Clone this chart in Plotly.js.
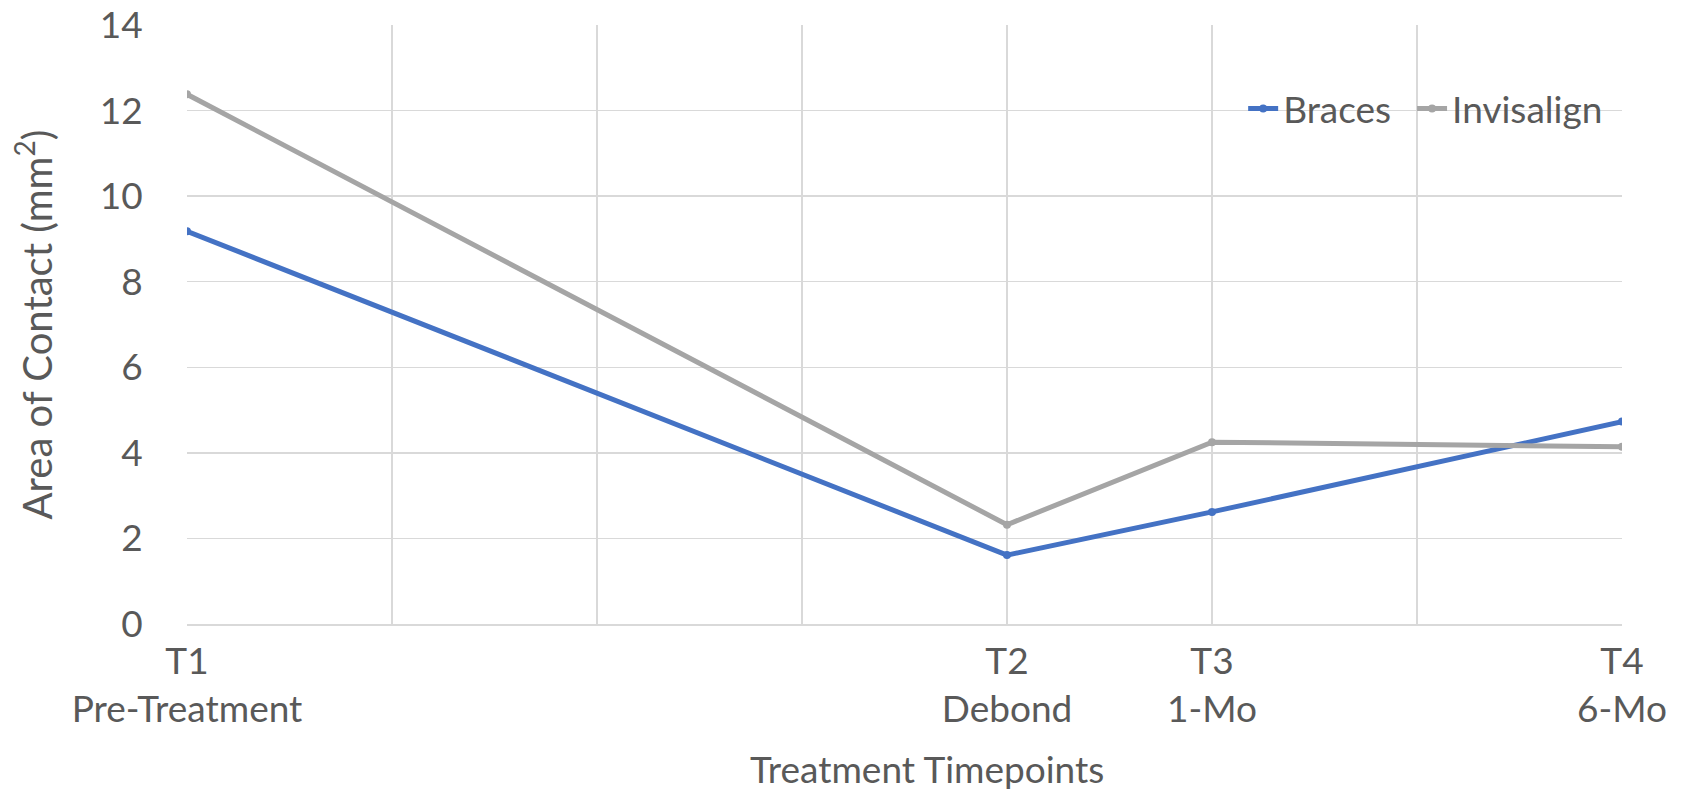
<!DOCTYPE html>
<html>
<head>
<meta charset="utf-8">
<script src="https://cdn.plot.ly/plotly-3.0.1.min.js"></script>
<style>html,body{margin:0;padding:0;background:#fff;}#chart{width:1682px;height:800px;}</style>
</head>
<body>
<div id="chart"></div>
<script>
// Data
const timepointPositions = [0, 4, 5, 7];
const timepointLabels = ['T1<br>Pre-Treatment', 'T2<br>Debond', 'T3<br>1-Mo', 'T4<br>6-Mo'];
const gridPositions = [0, 1, 2, 3, 4, 5, 6, 7];
const bracesValues = [9.18, 1.61, 2.62, 4.73];
const invisalignValues = [12.38, 2.32, 4.25, 4.14];
const yTickValues = [0, 2, 4, 6, 8, 10, 12, 14];
const xTitle = 'Treatment Timepoints';
const yTitle = 'Area of Contact (mm<sup>2</sup>)';

const FONT = 'Lato, "Open Sans", sans-serif';
const TXT = '#595959';
const GRID = '#D9D9D9';

const traces = [
  {
    x: timepointPositions, y: bracesValues, name: 'Braces',
    type: 'scatter', mode: 'lines+markers', legend: 'legend',
    line: {color: '#4472C4', width: 5},
    marker: {color: '#4472C4', size: 8}
  },
  {
    x: timepointPositions, y: invisalignValues, name: 'Invisalign',
    type: 'scatter', mode: 'lines+markers', legend: 'legend2',
    line: {color: '#A5A5A5', width: 5},
    marker: {color: '#A5A5A5', size: 8}
  }
];

const legendStyle = {
  orientation: 'h', y: 0.86, xanchor: 'left', yanchor: 'middle',
  bgcolor: 'rgba(0,0,0,0)', font: {family: FONT, size: 37, color: TXT},
  itemwidth: 30
};

const layout = {
  width: 1682, height: 800,
  margin: {l: 187, r: 60, t: 25, b: 176},
  paper_bgcolor: '#fff', plot_bgcolor: '#fff',
  font: {family: FONT, color: TXT, size: 37},
  showlegend: true,
  legend: Object.assign({x: 0.736}, legendStyle),
  legend2: Object.assign({x: 0.8537}, legendStyle),
  xaxis: {
    range: [0, 7], tickmode: 'array', tickvals: timepointPositions, ticktext: timepointLabels,
    showgrid: true, gridcolor: GRID, gridwidth: 1.5,
    minor: {tickmode: 'array', tickvals: gridPositions, showgrid: true, gridcolor: GRID, gridwidth: 1.5, ticks: ''},
    zeroline: false, showline: true, linecolor: GRID, linewidth: 1.5,
    ticks: '', tickfont: {family: FONT, size: 37, color: TXT},
    ticklabelstandoff: 4, ticklabeloverflow: 'allow',
    fixedrange: true
  },
  yaxis: {
    range: [0, 14], tickmode: 'array', tickvals: yTickValues,
    showgrid: true, gridcolor: GRID, gridwidth: 1.5,
    zeroline: false, showline: false,
    ticks: 'outside', ticklen: 36, tickcolor: 'rgba(0,0,0,0)',
    tickfont: {family: FONT, size: 37, color: TXT},
    ticklabeloverflow: 'allow',
    title: {text: yTitle, font: {family: FONT, size: 40, color: TXT}, standoff: 34},
    fixedrange: true
  },
  annotations: [{
    text: xTitle, xref: 'paper', yref: 'paper', x: 0.516, y: -0.242,
    xanchor: 'center', yanchor: 'middle', showarrow: false,
    font: {family: FONT, size: 37, color: TXT}
  }]
};

Plotly.newPlot('chart', traces, layout, {displayModeBar: false, staticPlot: true});
</script>
</body>
</html>
